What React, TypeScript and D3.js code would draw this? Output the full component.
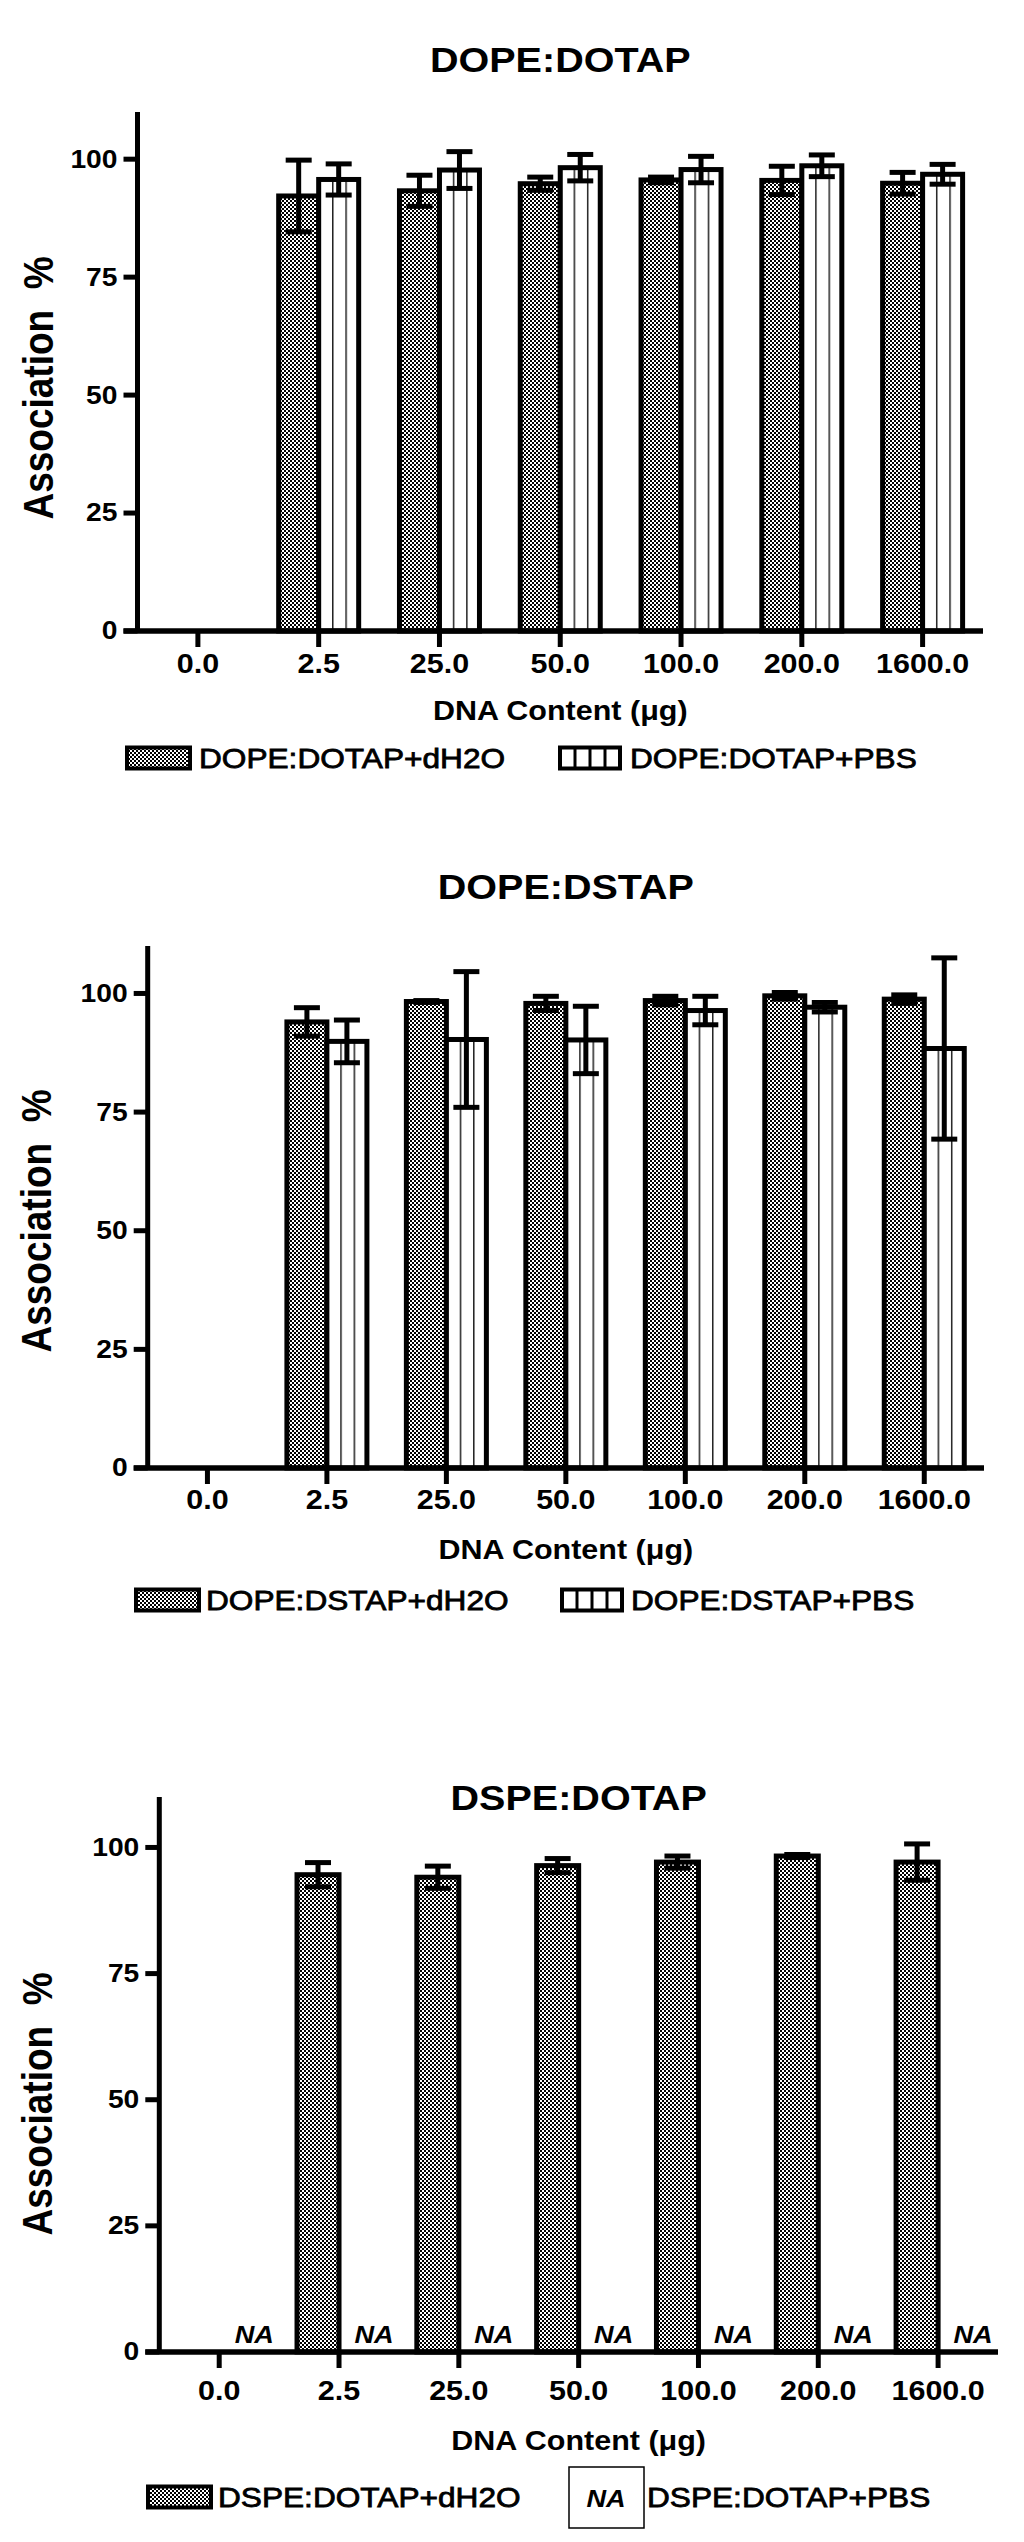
import React from "react";
import * as d3 from "d3";

const categories = ["0.0", "2.5", "25.0", "50.0", "100.0", "200.0", "1600.0"];
const yTicks = [0, 25, 50, 75, 100];

const dopeDotapH2O = [null, 92.2, 93.3, 94.8, 95.6, 95.5, 94.9];
const dopeDotapH2OErr = [null, 7.6, 3.3, 1.4, 0.6, 3.0, 2.3];
const dopeDotapPBS = [null, 95.7, 97.7, 98.2, 97.8, 98.6, 96.8];
const dopeDotapPBSErr = [null, 3.3, 3.9, 2.8, 2.8, 2.3, 2.1];

const dopeDstapH2O = [null, 94.0, 98.3, 97.9, 98.5, 99.5, 98.8];
const dopeDstapH2OErr = [null, 3.0, 0.2, 1.5, 0.9, 0.7, 0.9];
const dopeDstapPBS = [null, 89.9, 90.3, 90.2, 96.4, 97.1, 88.4];
const dopeDstapPBSErr = [null, 4.5, 14.3, 7.1, 3.0, 1.0, 19.1];

const dspeDotapH2O = [null, 94.6, 94.1, 96.4, 97.1, 98.3, 97.1];
const dspeDotapH2OErr = [null, 2.4, 2.2, 1.4, 1.2, 0.3, 3.6];

const FONT = "'Liberation Sans', Arial, sans-serif";
const SX = 1.13;

type PanelProps = {
  title: string;
  h2o: (number | null)[];
  h2oErr: (number | null)[];
  pbs: (number | null)[] | null;
  pbsErr: (number | null)[] | null;
  legend1: string;
  legend2: string;
  L: {
    left: number; right: number; y0: number; ytop: number; titleY: number;
    yLabelX: number; yLabelY: number; xTitleY: number; legendY: number; tickLabelY: number;
    sw1: number; sw2: number; t1: number; t2: number; barW: number;
  };
};

function SText({ x, y, size, weight = "bold", italic = false, anchor = "middle", children, rotate = false, heavy = 0 }: any) {
  return (
    <text
      transform={`translate(${x},${y}) scale(${SX},1)${rotate ? " rotate(-90)" : ""}`}
      fontFamily={FONT}
      fontSize={size}
      fontWeight={weight}
      fontStyle={italic ? "italic" : "normal"}
      textAnchor={anchor}
      dominantBaseline="central"
      fill="#000"
      stroke={heavy ? "#000" : "none"}
      strokeWidth={heavy}
      style={{ whiteSpace: "pre" }}
    >
      {children}
    </text>
  );
}

function Panel({ title, h2o, h2oErr, pbs, pbsErr, legend1, legend2, L }: PanelProps) {
  const x = d3.scaleBand<string>().domain(categories).range([L.left, L.right]).padding(0);
  const y = d3.scaleLinear().domain([0, 110]).range([L.y0, L.ytop]);
  const cx = (c: string) => (x(c) as number) + x.bandwidth() / 2;
  const midX = (L.left + L.right) / 2;
  const bw = L.barW;

  const errBar = (xc: number, v: number, e: number, key: string) => (
    <g key={key} stroke="#000" strokeWidth={5}>
      <line x1={xc} x2={xc} y1={y(v - e)} y2={y(v + e)} />
      <line x1={xc - 13} x2={xc + 13} y1={y(v + e)} y2={y(v + e)} />
      <line x1={xc - 13} x2={xc + 13} y1={y(v - e)} y2={y(v - e)} />
    </g>
  );

  return (
    <g>
      <SText x={midX} y={L.titleY} size={35}>{title}</SText>
      {categories.map((c, i) => {
        const v = h2o[i];
        if (v == null) return null;
        return (
          <rect key={"h" + c} x={cx(c) - bw} y={y(v)} width={bw} height={L.y0 - y(v)}
            fill="url(#checker)" stroke="#000" strokeWidth={5} />
        );
      })}
      {pbs && categories.map((c, i) => {
        const v = pbs[i];
        if (v == null) return null;
        return (
          <rect key={"p" + c} x={cx(c)} y={y(v)} width={bw} height={L.y0 - y(v)}
            fill="url(#vlines)" stroke="#000" strokeWidth={5} />
        );
      })}
      {categories.map((c, i) => {
        const v = h2o[i], e = h2oErr[i];
        if (v == null || e == null) return null;
        return errBar(cx(c) - bw / 2, v, e, "eh" + c);
      })}
      {pbs && pbsErr && categories.map((c, i) => {
        const v = pbs[i], e = pbsErr[i];
        if (v == null || e == null) return null;
        return errBar(cx(c) + bw / 2, v, e, "ep" + c);
      })}
      {!pbs && categories.map((c) => (
        <SText key={"na" + c} x={cx(c) + 35} y={L.y0 - 17} size={24} italic>NA</SText>
      ))}
      <line x1={L.left} x2={L.left} y1={L.ytop} y2={L.y0} stroke="#000" strokeWidth={5} />
      <line x1={L.left - 14} x2={L.right} y1={L.y0} y2={L.y0} stroke="#000" strokeWidth={5.5} />
      {yTicks.map((t) => (
        <g key={"yt" + t}>
          <line x1={L.left - 14} x2={L.left} y1={y(t)} y2={y(t)} stroke="#000" strokeWidth={5} />
          <SText x={L.left - 20} y={y(t)} size={25} anchor="end">{String(t)}</SText>
        </g>
      ))}
      {categories.map((c) => (
        <g key={"xt" + c}>
          <line x1={cx(c)} x2={cx(c)} y1={L.y0} y2={L.y0 + 16} stroke="#000" strokeWidth={5} />
          <SText x={cx(c)} y={L.tickLabelY} size={27}>{c}</SText>
        </g>
      ))}
      <SText x={L.yLabelX} y={L.yLabelY} size={37} rotate>{"Association  %"}</SText>
      <SText x={midX} y={L.xTitleY} size={27}>{"DNA Content (\u03BCg)"}</SText>
      <rect x={L.sw1 + 2} y={L.legendY - 10.5} width={63} height={21} fill="url(#checker)" stroke="#000" strokeWidth={4} />
      <SText x={L.t1} y={L.legendY} size={28} weight="normal" anchor="start" heavy={0.8}>{legend1}</SText>
      {pbs ? (
        <g>
          <rect x={L.sw2 + 2} y={L.legendY - 10.5} width={60} height={21} fill="#fff" stroke="#000" strokeWidth={4} />
          {[1, 2, 3].map((k) => (
            <line key={k} x1={L.sw2 + 2 + (60 * k) / 4} x2={L.sw2 + 2 + (60 * k) / 4}
              y1={L.legendY - 10.5} y2={L.legendY + 10.5} stroke="#000" strokeWidth={3} />
          ))}
        </g>
      ) : (
        <g>
          <rect x={L.sw2} y={L.legendY - 30} width={75} height={61} fill="#fff" stroke="#000" strokeWidth={1.5} />
          <SText x={L.sw2 + 37} y={L.legendY + 2} size={24} italic>NA</SText>
        </g>
      )}
      <SText x={L.t2} y={L.legendY} size={28} weight="normal" anchor="start" heavy={0.8}>{legend2}</SText>
    </g>
  );
}

export default function App() {
  return (
    <svg width={1024} height={2542} style={{ position: "absolute", left: 0, top: 0, display: "block", background: "#fff" }}>
      <defs>
        <pattern id="checker" width={4} height={4} patternUnits="userSpaceOnUse">
          <rect width={4} height={4} fill="#000" />
          <rect x={0} y={0} width={2} height={2} fill="#fff" />
          <rect x={2} y={2} width={2} height={2} fill="#fff" />
        </pattern>
        <pattern id="vlines" width={1 / 3} height={1} patternUnits="objectBoundingBox">
          <rect width={200} height={2000} fill="#fff" />
          <line x1={0.75} x2={0.75} y1={0} y2={2000} stroke="#222" strokeWidth={1.5} />
        </pattern>
      </defs>
      <Panel
        title="DOPE:DOTAP" h2o={dopeDotapH2O} h2oErr={dopeDotapH2OErr} pbs={dopeDotapPBS} pbsErr={dopeDotapPBSErr}
        legend1="DOPE:DOTAP+dH2O" legend2="DOPE:DOTAP+PBS"
        L={{ left: 137.5, right: 983, y0: 631, ytop: 112, titleY: 60, yLabelX: 38, yLabelY: 388, xTitleY: 711, legendY: 758, tickLabelY: 664, sw1: 125, sw2: 558, t1: 199, t2: 630, barW: 40 }}
      />
      <Panel
        title="DOPE:DSTAP" h2o={dopeDstapH2O} h2oErr={dopeDstapH2OErr} pbs={dopeDstapPBS} pbsErr={dopeDstapPBSErr}
        legend1="DOPE:DSTAP+dH2O" legend2="DOPE:DSTAP+PBS"
        L={{ left: 147.7, right: 984, y0: 1468, ytop: 946, titleY: 887, yLabelX: 36, yLabelY: 1221, xTitleY: 1550, legendY: 1600, tickLabelY: 1500, sw1: 134, sw2: 560, t1: 206, t2: 631, barW: 40 }}
      />
      <Panel
        title="DSPE:DOTAP" h2o={dspeDotapH2O} h2oErr={dspeDotapH2OErr} pbs={null} pbsErr={null}
        legend1="DSPE:DOTAP+dH2O" legend2="DSPE:DOTAP+PBS"
        L={{ left: 159.3, right: 998, y0: 2352, ytop: 1797, titleY: 1798, yLabelX: 37, yLabelY: 2104, xTitleY: 2441, legendY: 2497, tickLabelY: 2391, sw1: 146, sw2: 569, t1: 218, t2: 647, barW: 42 }}
      />
    </svg>
  );
}
